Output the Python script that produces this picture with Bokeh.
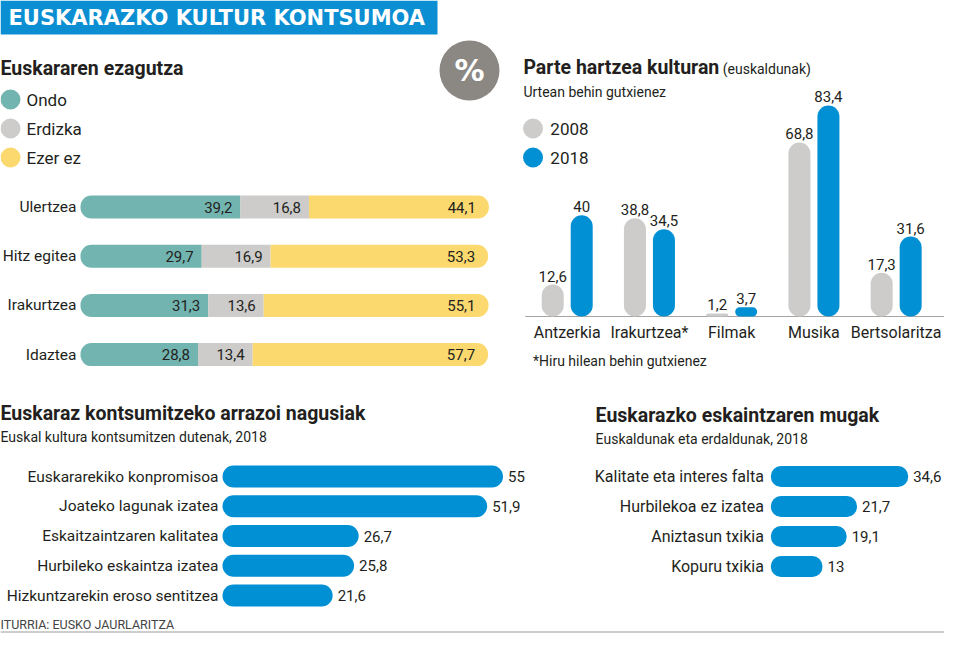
from bokeh.plotting import figure
from bokeh.models import Range1d
from bokeh.embed import file_html
from bokeh.resources import INLINE
from bokeh.core.properties import value

# ---------------- data ----------------
banner_title = "EUSKARAZKO KULTUR KONTSUMOA"

know_title = "Euskararen ezagutza"
know_levels = ["Ondo", "Erdizka", "Ezer ez"]
know_skills = ["Ulertzea", "Hitz egitea", "Irakurtzea", "Idaztea"]
know_ondo = [39.2, 29.7, 31.3, 28.8]
know_erdizka = [16.8, 16.9, 13.6, 13.4]
know_ezer = [44.1, 53.3, 55.1, 57.7]

part_title = "Parte hartzea kulturan"
part_title_note = "(euskaldunak)"
part_subtitle = "Urtean behin gutxienez"
part_footnote = "*Hiru hilean behin gutxienez"
part_years = ["2008", "2018"]
part_cats = ["Antzerkia", "Irakurtzea*", "Filmak", "Musika", "Bertsolaritza"]
part_2008 = [12.6, 38.8, 1.2, 68.8, 17.3]
part_2018 = [40, 34.5, 3.7, 83.4, 31.6]

reason_title = "Euskaraz kontsumitzeko arrazoi nagusiak"
reason_subtitle = "Euskal kultura kontsumitzen dutenak, 2018"
reason_cats = ["Euskararekiko konpromisoa", "Joateko lagunak izatea",
               "Eskaitzaintzaren kalitatea", "Hurbileko eskaintza izatea",
               "Hizkuntzarekin eroso sentitzea"]
reason_vals = [55, 51.9, 26.7, 25.8, 21.6]

limit_title = "Euskarazko eskaintzaren mugak"
limit_subtitle = "Euskaldunak eta erdaldunak, 2018"
limit_cats = ["Kalitate eta interes falta", "Hurbilekoa ez izatea",
              "Aniztasun txikia", "Kopuru txikia"]
limit_vals = [34.6, 21.7, 19.1, 13]

source_note = "ITURRIA: EUSKO JAURLARITZA"

# ---------------- style ----------------
F = "Roboto"
TXT = "#231f20"
TEAL = "#72b4b0"
GREY = "#cdcccb"
YELLOW = "#fbd96f"
BLUE = "#0090d3"
BANNER = "#0b8fd2"
PCT = "#8b8783"

W, H = 944, 633
SQ = 0.963  # horizontal squeeze of the right-hand column so it fits the page


def RX(x):
    return x if x <= 520 else 520 + (x - 520) * SQ


def fmt(v):
    return f"{v:g}".replace(".", ",")


def x_scale(x0, k):
    return Range1d(start=(0 - x0) / k, end=(W - x0) / k)


def y_scale_up(y0, k):
    return Range1d(start=(y0 - H) / k, end=y0 / k)


p = figure(width=W, height=H, x_range=Range1d(0, W), y_range=Range1d(H, 0),
           output_backend="svg", toolbar_location=None, min_border=0,
           x_axis_location=None, y_axis_location=None,
           background_fill_color="white", border_fill_color="white")
p.outline_line_color = None
p.xgrid.visible = False
p.ygrid.visible = False

PK = 85.4 * SQ
LK = 4.12 * SQ
p.extra_x_ranges = {
    "kx": x_scale(80, 4.08),
    "px": x_scale(RX(568.5), PK),
    "rx": x_scale(222, 5.1),
    "lx": x_scale(RX(780), LK),
}
p.extra_y_ranges = {
    "ky": y_scale_up(206.5, 49.2),
    "py": y_scale_up(316, 2.53),
    "ry": y_scale_up(476, 29.75),
    "ly": y_scale_up(476, 30.0),
}


def txt(x, y, t, size, color=TXT, align="left", baseline="middle", bold=False,
        font=F, xr="default", yr="default", xo=0, yo=0):
    p.text(x=x, y=y, text=t, text_font=value(font), text_font_size=size,
           text_color=color, text_align=align, text_baseline=baseline,
           text_font_style="bold" if bold else "normal", x_offset=xo, y_offset=yo,
           x_range_name=xr, y_range_name=yr)


CAT = "16px"
CAT_L = "15.5px"
VAL = "15px"
LEG = "17px"
TIT = "19.5px"
SUB = "14px"

# ---------------- banner ----------------
p.quad(left=[0], right=[437], top=[0], bottom=[34], fill_color=BANNER, line_color=None)
txt([8], [17.5], [banner_title], "21px", color="white", bold=True, font="DejaVu Sans")

# ---------------- chart 1: knowledge (stacked) ----------------
txt([0], [68], [know_title], TIT, bold=True)
for i, (lvl, col) in enumerate(zip(know_levels, [TEAL, GREY, YELLOW])):
    yy = [99, 128, 157][i]
    p.scatter([10], [yy], size=20, marker="circle", fill_color=col, line_color=None)
    txt([26], [yy], [lvl], LEG)

rows_k = [-i for i in range(len(know_skills))]
c1 = know_ondo
c2 = [a + b for a, b in zip(know_ondo, know_erdizka)]
c3 = [a + b for a, b in zip(c2, know_ezer)]
hk = 23 / 49.2
p.hbar(y=rows_k, left=0, right=c1, height=hk, fill_color=TEAL, line_color=None,
       border_radius=(11, 0, 0, 11), x_range_name="kx", y_range_name="ky")
p.hbar(y=rows_k, left=c1, right=c2, height=hk, fill_color=GREY, line_color=None,
       x_range_name="kx", y_range_name="ky")
p.hbar(y=rows_k, left=c2, right=c3, height=hk, fill_color=YELLOW, line_color=None,
       border_radius=(0, 11, 11, 0), x_range_name="kx", y_range_name="ky")
txt([0] * len(rows_k), rows_k, know_skills, CAT_L, align="right", xr="kx", yr="ky", xo=-4)
txt(c1, rows_k, [fmt(v) for v in know_ondo], VAL, align="right", xr="kx", yr="ky", xo=-8)
txt(c2, rows_k, [fmt(v) for v in know_erdizka], VAL, align="right", xr="kx", yr="ky", xo=-8)
txt(c3, rows_k, [fmt(v) for v in know_ezer], VAL, align="right", xr="kx", yr="ky", xo=-13)

# ---------------- % badge ----------------
p.scatter([469], [70], size=60, marker="circle", fill_color=PCT, line_color=None)
txt([469], [70], ["%"], "30px", color="white", align="center", bold=True, font="DejaVu Sans")

# ---------------- chart 2: participation ----------------
txt([RX(523)], [67], [part_title], TIT, bold=True)
txt([RX(730)], [68], [part_title_note], SUB)
txt([RX(523)], [91.5], [part_subtitle], SUB)
for i, (yr, col) in enumerate(zip(part_years, [GREY, BLUE])):
    yy = [128, 157][i]
    p.scatter([RX(533)], [yy], size=20, marker="circle", fill_color=col, line_color=None)
    txt([RX(551)], [yy], [yr], LEG)

p.segment(x0=[RX(525)], y0=[316], x1=[W], y1=[316], line_color="#a7a5a4", line_width=1)
idx = list(range(len(part_cats)))
dx = 14.5 / PK
bw = 22 / PK
x08 = [i - dx for i in idx]
x18 = [i + dx for i in idx]
p.vbar(x=x08, bottom=0, top=part_2008, width=bw, fill_color=GREY, line_color=None,
       border_radius=11, x_range_name="px", y_range_name="py")
p.vbar(x=x18, bottom=0, top=part_2018, width=bw, fill_color=BLUE, line_color=None,
       border_radius=11, x_range_name="px", y_range_name="py")
txt(x08, part_2008, [fmt(v) for v in part_2008], VAL, align="center",
    baseline="bottom", xr="px", yr="py", yo=-3)
txt(x18, part_2018, [fmt(v) for v in part_2018], VAL, align="center",
    baseline="bottom", xr="px", yr="py", yo=-3)
txt(idx, [0] * len(idx), part_cats, CAT, align="center", xr="px", yr="py", yo=16)
txt([RX(533)], [360], [part_footnote], SUB)

# ---------------- chart 3: reasons ----------------
txt([0], [413], [reason_title], TIT, bold=True)
txt([0], [436], [reason_subtitle], SUB)
rows_r = [-i for i in range(len(reason_cats))]
p.hbar(y=rows_r, left=0, right=reason_vals, height=22 / 29.75, fill_color=BLUE,
       line_color=None, border_radius=11, x_range_name="rx", y_range_name="ry")
txt([0] * len(rows_r), rows_r, reason_cats, CAT_L, align="right", xr="rx", yr="ry", xo=-4)
txt(reason_vals, rows_r, [fmt(v) for v in reason_vals], VAL, xr="rx", yr="ry", xo=5)

# ---------------- chart 4: limits ----------------
txt([RX(598)], [415], [limit_title], TIT, bold=True)
txt([RX(598)], [438], [limit_subtitle], SUB)
rows_l = [-i for i in range(len(limit_cats))]
p.hbar(y=rows_l, left=0, right=limit_vals, height=21 / 30.0, fill_color=BLUE,
       line_color=None, border_radius=10, x_range_name="lx", y_range_name="ly")
txt([0] * len(rows_l), rows_l, limit_cats, CAT, align="right", xr="lx", yr="ly", xo=-7)
txt(limit_vals, rows_l, [fmt(v) for v in limit_vals], VAL, xr="lx", yr="ly", xo=5)

# ---------------- footer ----------------
txt([0], [624], [source_note], "12.5px", color="#444444")
p.segment(x0=[0], y0=[631.5], x1=[W], y1=[631.5], line_color="#9a9a9a", line_width=1)

open("out.html", "w").write(file_html(p, INLINE))
